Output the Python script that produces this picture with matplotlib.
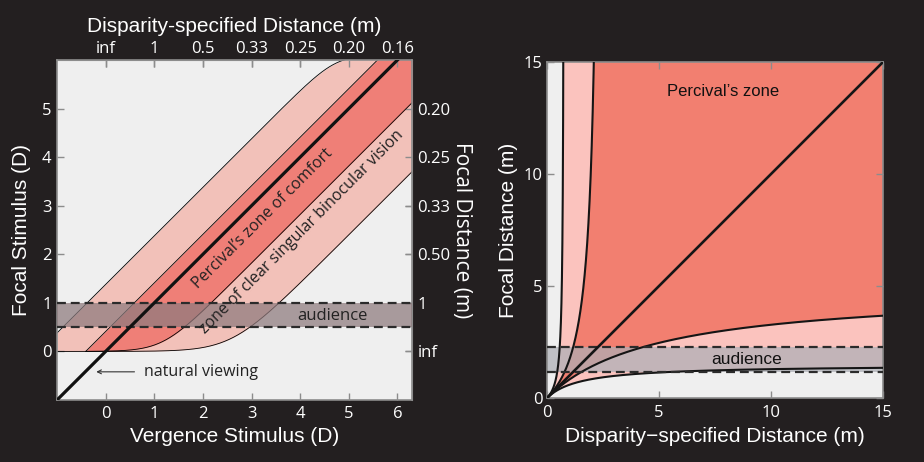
import numpy as np
import matplotlib
matplotlib.use('Agg')
import matplotlib.pyplot as plt

# ---------------- data ----------------
# Left panel (diopters): zone boundaries as F = V + offset
vergence_lim = [-1.0, 6.3]
focal_lim = [-1.0, 6.0]
left_x_ticks = [0, 1, 2, 3, 4, 5, 6]
top_tick_labels = ['inf', '1', '0.5', '0.33', '0.25', '0.20', '0.16']
left_y_ticks = [0, 1, 2, 3, 4, 5]
right_tick_labels = ['inf', '1', '0.50', '0.33', '0.25', '0.20']
percival_offsets = [-1.18, 0.41]     # lower, upper (D)
clear_offsets = [-2.6, 1.38]         # lower, upper (D)
clear_cap = 6.1                      # accommodation ceiling (D)
audience_D = [0.5, 1.0]

# Right panel (metres): boundaries F = V + a, with F = 1/focal, V = 1/disparity
right_lim = [0, 15]
right_ticks = [0, 5, 10, 15]
right_percival_a = [0.205, -0.41]    # lower, upper
right_clear_a = [0.67, -1.29]        # lower, upper
audience_m = [1.185, 2.30]

# ---------------- style ----------------
BG = '#231f20'
PLOT_BG = '#efefef'
L_LIGHT = '#f2c1b9'
L_DARK = '#ef7f77'
R_LIGHT = '#fbc3be'
R_DARK = '#f27f70'
SPINE = '#8c8c8c'
LABEL_FONT = 'Liberation Sans'
TICK_FONT = 'Open Sans'

fig = plt.figure(figsize=(9.24, 4.62), dpi=100, facecolor=BG)
axL = fig.add_axes([0.0617, 0.1342, 0.3842, 0.7359])
axR = fig.add_axes([0.5917, 0.1379, 0.3643, 0.7286])


def soft_floor(y, floor, s):
    return floor + s * np.logaddexp(0, (y - floor) / s)


def soft_cap(y, cap, s):
    return cap - s * np.logaddexp(0, (cap - y) / s)


def style_axes(ax, pad=4):
    ax.set_facecolor(PLOT_BG)
    for sp in ax.spines.values():
        sp.set_color(SPINE)
        sp.set_linewidth(1.2)
    ax.tick_params(direction='in', length=5, width=1, color=SPINE,
                   labelcolor='white', labelsize=12, pad=pad,
                   top=True, right=True)
    for lab in ax.get_xticklabels() + ax.get_yticklabels():
        lab.set_fontfamily(TICK_FONT)


# ---------------- left panel ----------------
v = np.linspace(vergence_lim[0], vergence_lim[1], 2000)
p_lo = soft_floor(v + percival_offsets[0], 0.0, 0.3)
p_hi = v + percival_offsets[1]
c_lo = soft_floor(v + clear_offsets[0], 0.0, 0.4)
c_hi = soft_cap(v + clear_offsets[1], clear_cap, 0.25)

axL.fill_between(v, c_lo, c_hi, where=c_hi >= c_lo, interpolate=True,
                 color=L_LIGHT, lw=0, zorder=1)
pm = p_hi >= p_lo
axL.fill_between(v, p_lo, p_hi, where=pm, interpolate=True,
                 color=L_DARK, lw=0, zorder=1.5)
for yy, m in [(c_lo, None), (c_hi, None), (p_lo, pm), (p_hi, pm)]:
    if m is None:
        axL.plot(v, yy, color='k', lw=0.6, zorder=2)
    else:
        axL.plot(v[m], yy[m], color='k', lw=0.6, zorder=2)

axL.axhspan(audience_D[0], audience_D[1], color=(141/255, 122/255, 125/255),
            alpha=0.72, lw=0, zorder=3)
for yv in audience_D:
    axL.axhline(yv, color='#2b2b2b', lw=1.6, dashes=(4, 2.2), zorder=3.5)
axL.plot(v, v, color='#111111', lw=2.3, zorder=4, solid_capstyle='butt')

axL.set_xlim(vergence_lim)
axL.set_ylim(focal_lim)
axL.set_xticks(left_x_ticks)
axL.set_yticks(left_y_ticks)
style_axes(axL)

axL.text(4.66, 0.73, 'audience', ha='center', va='center', fontsize=12,
         family=TICK_FONT, color='#222222', zorder=5)
axL.annotate('', xy=(-0.25, -0.42), xytext=(0.65, -0.42),
             arrowprops=dict(arrowstyle='->', color='#333333', lw=0.8,
                             mutation_scale=7), zorder=5)
axL.text(0.78, -0.42, 'natural viewing', ha='left', va='center', fontsize=11.5,
         family=TICK_FONT, color='#222222', zorder=5)
axL.text(3.22, 2.73, "Percival\u2019s zone of comfort", ha='center', va='center',
         rotation=45, rotation_mode='anchor', fontsize=11.5, family=TICK_FONT,
         color='#222222', zorder=5)
axL.text(4.03, 2.45, 'zone of clear singular binocular vision', ha='center',
         va='center', rotation=45, rotation_mode='anchor', fontsize=11.5,
         family=TICK_FONT, color='#222222', zorder=5)

axL.set_xlabel('Vergence Stimulus (D)', color='white', fontsize=15,
               family=LABEL_FONT, labelpad=4)
axL.set_ylabel('Focal Stimulus (D)', color='white', fontsize=15,
               family=LABEL_FONT, labelpad=8)

secx = axL.secondary_xaxis('top')
secx.set_xticks(left_x_ticks)
secx.set_xticklabels(top_tick_labels)
secx.tick_params(direction='in', length=5, width=1, color=SPINE,
                 labelcolor='white', labelsize=12, pad=2)
for lab in secx.get_xticklabels():
    lab.set_fontfamily(TICK_FONT)
secx.spines['top'].set_color(SPINE)
secx.set_xlabel('Disparity-specified Distance (m)', color='white', fontsize=15,
                family=LABEL_FONT, labelpad=7)

secy = axL.secondary_yaxis('right')
secy.set_yticks(left_y_ticks)
secy.set_yticklabels(right_tick_labels)
secy.tick_params(direction='in', length=5, width=1, color=SPINE,
                 labelcolor='white', labelsize=12, pad=4)
for lab in secy.get_yticklabels():
    lab.set_fontfamily(TICK_FONT)
secy.spines['right'].set_color(SPINE)
secy.set_ylabel('Focal Distance (m)', color='white', fontsize=15,
                family=TICK_FONT, rotation=270, labelpad=15)

# ---------------- right panel ----------------
grid = np.linspace(1e-4, 16, 3000)


def upper_curve(a):
    # parametrised by focal distance f: d = 1/(1/f - a)
    f = grid
    return 1.0 / (1.0 / f - a), f


def lower_curve(a):
    # parametrised by disparity distance d: f = 1/(1/d + a)
    d = grid
    return d, 1.0 / (1.0 / d + a)


def zone_polygon(a_lo, a_hi):
    xu, yu = upper_curve(a_hi)
    xl, yl = lower_curve(a_lo)
    xs = np.concatenate([xu, [16.0], xl[::-1]])
    ys = np.concatenate([yu, [16.0], yl[::-1]])
    return xs, ys


xs, ys = zone_polygon(*right_clear_a)
axR.fill(xs, ys, color=R_LIGHT, lw=0, zorder=1)
xs, ys = zone_polygon(*right_percival_a)
axR.fill(xs, ys, color=R_DARK, lw=0, zorder=1.5)

axR.axhspan(audience_m[0], audience_m[1], color=(173/255, 175/255, 182/255),
            alpha=0.72, lw=0, zorder=2)

for a in [right_clear_a[1], right_percival_a[1]]:
    x, y = upper_curve(a)
    axR.plot(x, y, color='#151515', lw=1.5, zorder=3)
for a in [right_clear_a[0], right_percival_a[0]]:
    x, y = lower_curve(a)
    axR.plot(x, y, color='#151515', lw=1.5, zorder=3)
axR.plot(right_lim, right_lim, color='#151515', lw=1.9, zorder=3.5)
for yv in audience_m:
    axR.axhline(yv, color='#2b2b2b', lw=1.6, dashes=(4, 2.2), zorder=3.2)

axR.text(7.87, 13.66, "Percival\u2019s zone", ha='center', va='center',
         fontsize=12, family=LABEL_FONT, color='#111111', zorder=5)
axR.text(8.9, 1.71, 'audience', ha='center', va='center', fontsize=12.5,
         family=LABEL_FONT, color='#111111', zorder=5)

axR.set_xlim(right_lim)
axR.set_ylim(right_lim)
axR.set_xticks(right_ticks)
axR.set_yticks(right_ticks)
style_axes(axR, pad=3)
axR.tick_params(axis='x', pad=5)
axR.set_xlabel('Disparity\u2212specified Distance (m)', color='white',
               fontsize=15, family=LABEL_FONT, labelpad=4)
axR.set_ylabel('Focal Distance (m)', color='white', fontsize=15,
               family=LABEL_FONT, labelpad=4)

fig.savefig('out.png', dpi=100, facecolor=BG)
